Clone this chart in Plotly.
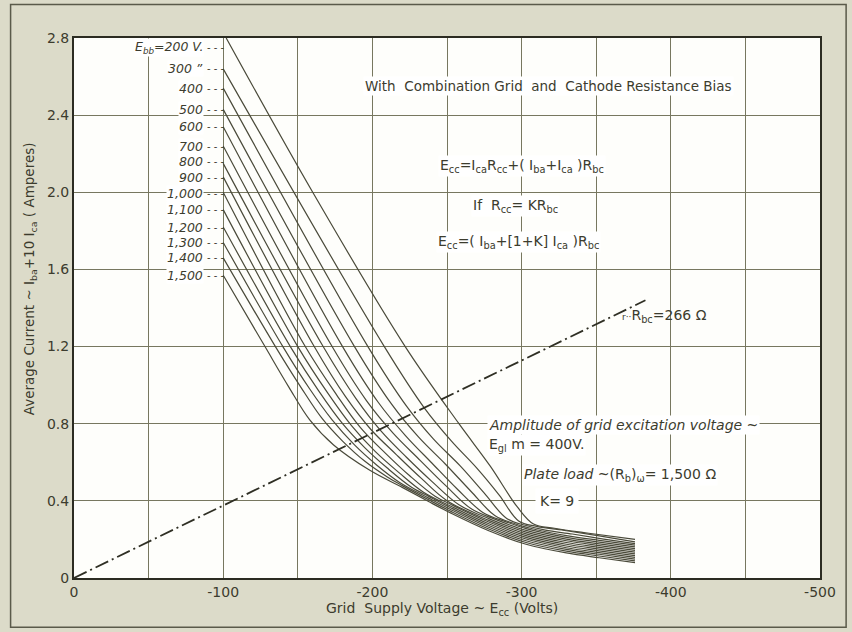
import plotly.graph_objects as go

# ---------------- data ----------------
ebb_labels = ["E<sub>bb</sub>=200 V.", "300 \u201d", "400", "500", "600", "700", "800",
              "900", "1,000", "1,100", "1,200", "1,300", "1,400", "1,500"]
ebb_label_y = [2.75, 2.64, 2.54, 2.43, 2.34, 2.24, 2.16, 2.075, 1.995, 1.91, 1.82, 1.74, 1.66, 1.57]

x_200 = [-102, -160, -222, -258, -279, -297, -308, -322, -345, -376]
y_200 = [2.80, 2.00, 1.20, 0.80, 0.58, 0.37, 0.28, 0.258, 0.232, 0.200]
x_300 = [-100, -208, -235, -253, -270, -285, -298, -310, -330, -352, -376]
y_300 = [2.64, 1.20, 0.88, 0.71, 0.57, 0.43, 0.296, 0.268, 0.245, 0.218, 0.187]
x_400 = [-100, -197, -223, -241, -259, -275, -290, -303, -316, -334, -355, -376]
y_400 = [2.54, 1.20, 0.89, 0.72, 0.58, 0.44, 0.309, 0.272, 0.248, 0.228, 0.202, 0.178]
x_500 = [-100, -188, -213, -231, -249, -266, -282, -296, -310, -330, -352, -376]
y_500 = [2.43, 1.20, 0.90, 0.73, 0.59, 0.45, 0.324, 0.28, 0.25, 0.22, 0.195, 0.17]
x_600 = [-100, -180, -204, -222, -240, -257, -274, -290, -303, -330, -352, -376]
y_600 = [2.34, 1.20, 0.91, 0.74, 0.595, 0.46, 0.34, 0.29, 0.256, 0.211, 0.186, 0.161]
x_700 = [-100, -173, -196, -214, -232, -249, -266, -282, -303, -330, -352, -376]
y_700 = [2.24, 1.20, 0.92, 0.75, 0.61, 0.48, 0.36, 0.305, 0.247, 0.202, 0.177, 0.152]
x_800 = [-100, -167, -189, -206, -223, -240, -258, -278, -303, -330, -352, -376]
y_800 = [2.15, 1.20, 0.93, 0.76, 0.625, 0.50, 0.38, 0.308, 0.238, 0.193, 0.168, 0.143]
x_900 = [-100, -161, -182, -199, -216, -233, -250, -278, -303, -330, -352, -376]
y_900 = [2.08, 1.20, 0.94, 0.77, 0.64, 0.515, 0.401, 0.299, 0.229, 0.184, 0.159, 0.134]
x_1000 = [-100, -155, -176, -192, -209, -225, -242, -253, -278, -303, -330, -352, -376]
y_1000 = [2.00, 1.20, 0.95, 0.78, 0.645, 0.53, 0.424, 0.38, 0.29, 0.22, 0.175, 0.15, 0.125]
x_1100 = [-100, -150, -170, -186, -202, -218, -234, -253, -278, -303, -330, -352, -376]
y_1100 = [1.91, 1.20, 0.96, 0.79, 0.655, 0.545, 0.446, 0.371, 0.281, 0.211, 0.166, 0.141, 0.116]
x_1200 = [-100, -145, -164, -180, -195, -210, -226, -238, -253, -278, -303, -330, -352, -376]
y_1200 = [1.82, 1.20, 0.97, 0.80, 0.675, 0.57, 0.472, 0.422, 0.362, 0.272, 0.202, 0.157, 0.132, 0.107]
x_1300 = [-100, -140, -158, -173, -188, -203, -218, -238, -253, -278, -303, -330, -352, -376]
y_1300 = [1.74, 1.20, 0.98, 0.82, 0.69, 0.585, 0.497, 0.413, 0.353, 0.263, 0.193, 0.148, 0.123, 0.098]
x_1400 = [-100, -135, -152, -166, -180, -195, -210, -220, -238, -253, -278, -303, -330, -352, -376]
y_1400 = [1.66, 1.20, 0.99, 0.83, 0.71, 0.605, 0.524, 0.479, 0.404, 0.344, 0.254, 0.184, 0.139, 0.114, 0.089]
x_1500 = [-100, -128, -144, -158, -174, -198, -220, -238, -253, -278, -303, -330, -352, -376]
y_1500 = [1.57, 1.20, 0.99, 0.82, 0.69, 0.56, 0.47, 0.395, 0.335, 0.245, 0.175, 0.13, 0.105, 0.08]

rbc_x = [0, -383]
rbc_y = [0, 1.44]

x_tick_vals = [0, -50, -100, -150, -200, -250, -300, -350, -400, -450, -500]
x_tick_text = ["0", "", "-100", "", "-200", "", "-300", "", "-400", "", "-500"]
y_tick_vals = [0, 0.4, 0.8, 1.2, 1.6, 2.0, 2.4, 2.8]
y_tick_text = ["0", "0.4", "0.8", "1.2", "1.6", "2.0", "2.4", "2.8"]

curves = [(x_200, y_200), (x_300, y_300), (x_400, y_400), (x_500, y_500),
          (x_600, y_600), (x_700, y_700), (x_800, y_800), (x_900, y_900),
          (x_1000, y_1000), (x_1100, y_1100), (x_1200, y_1200), (x_1300, y_1300),
          (x_1400, y_1400), (x_1500, y_1500)]

# ---------------- styling ----------------
INK = "#3c3c2e"
CURVE = "#4a4a3a"
GRID = "#77775f"
PAPER = "#dcdbc9"
FONT = "DejaVu Sans"

fig = go.Figure()

for cx, cy in curves:
    fig.add_trace(go.Scatter(x=cx, y=cy, mode="lines",
                             line=dict(color=CURVE, width=1.2, shape="spline", smoothing=1.0),
                             hoverinfo="skip", showlegend=False))

fig.add_trace(go.Scatter(x=rbc_x, y=rbc_y, mode="lines",
                         line=dict(color="#2f2f24", width=1.8, dash="14px,4px,2px,4px"),
                         hoverinfo="skip", showlegend=False))

ann = []
# Ebb labels with dashed leaders
for lab, ly in zip(ebb_labels, ebb_label_y):
    ann.append(dict(x=-87, y=ly, xref="x", yref="y", text="<i>" + lab + "</i>",
                    showarrow=False, xanchor="right", yanchor="middle",
                    font=dict(family=FONT, size=12.5, color=INK),
                    bgcolor="white", borderpad=0))
    ann.append(dict(x=-87.5, y=ly, xref="x", yref="y", text="- - -",
                    showarrow=False, xanchor="left", yanchor="middle",
                    font=dict(family=FONT, size=10, color=INK)))

txt_font = dict(family=FONT, size=14, color=INK)
ann += [
    dict(x=-318, y=2.55, text="With  Combination Grid  and  Cathode Resistance Bias",
         showarrow=False, font=dict(family=FONT, size=13.5, color=INK), bgcolor="white"),
    dict(x=-300, y=2.135,
         text="E<sub>cc</sub>=I<sub>ca</sub>R<sub>cc</sub>+( I<sub>ba</sub>+I<sub>ca</sub> )R<sub>bc</sub>",
         showarrow=False, font=txt_font, bgcolor="white"),
    dict(x=-296, y=1.93, text="If  R<sub>cc</sub>= KR<sub>bc</sub>",
         showarrow=False, font=txt_font, bgcolor="white"),
    dict(x=-298, y=1.74,
         text="E<sub>cc</sub>=( I<sub>ba</sub>+[1+K] I<sub>ca</sub> )R<sub>bc</sub>",
         showarrow=False, font=txt_font, bgcolor="white"),
    dict(x=-366, y=1.36, text="<span style='font-size:9px'>r··</span>R<sub>bc</sub>=266 \u03a9",
         showarrow=False, xanchor="left", font=txt_font),
    dict(x=-277, y=0.795, text="<i>Amplitude of grid excitation voltage ~</i>",
         showarrow=False, xanchor="left", font=txt_font, bgcolor="white"),
    dict(x=-277, y=0.69, text="E<sub>gl</sub> m = 400V.",
         showarrow=False, xanchor="left", font=txt_font, bgcolor="white"),
    dict(x=-300, y=0.535, text="<i>Plate load</i> ~(R<sub>b</sub>)<sub>\u03c9</sub>= 1,500 \u03a9",
         showarrow=False, xanchor="left", font=txt_font, bgcolor="white"),
    dict(x=-324, y=0.40, text="K= 9", showarrow=False, font=txt_font,
         bgcolor="white", borderpad=4),
    # axis titles
    dict(x=0.493, y=-0.058, xref="paper", yref="paper",
         text="Grid  Supply Voltage ~ E<sub>cc</sub> (Volts)", showarrow=False,
         font=dict(family=FONT, size=14, color=INK), yanchor="middle"),
    dict(x=-0.059, y=0.555, xref="paper", yref="paper", textangle=-90,
         text="Average Current ~ I<sub>ba</sub>+10 I<sub>ca</sub> ( Amperes)", showarrow=False,
         font=dict(family=FONT, size=13.5, color=INK), xanchor="center", yanchor="middle"),
]
for a in ann:
    a.setdefault("xref", "x")
    a.setdefault("yref", "y")

fig.update_layout(
    width=852, height=632,
    margin=dict(l=74, r=32, t=38, b=54),
    paper_bgcolor=PAPER, plot_bgcolor="#fefefb",
    annotations=ann,
    shapes=[dict(type="rect", xref="paper", yref="paper",
                 x0=-0.085, x1=1.035, y0=-0.091, y1=1.062,
                 line=dict(color="#5a5a4a", width=1.5), layer="below")],
    font=dict(family=FONT, color=INK),
)
fig.update_xaxes(range=[0, -500], tickvals=x_tick_vals, ticktext=x_tick_text,
                 showgrid=True, gridcolor=GRID, gridwidth=1, zeroline=False,
                 showline=True, mirror=True, linecolor="#2c2c22", linewidth=2,
                 ticks="", tickfont=dict(family=FONT, size=14, color=INK))
fig.update_yaxes(range=[0, 2.8], tickvals=y_tick_vals, ticktext=y_tick_text,
                 showgrid=True, gridcolor=GRID, gridwidth=1, zeroline=False,
                 showline=True, mirror=True, linecolor="#2c2c22", linewidth=2,
                 ticks="", tickfont=dict(family=FONT, size=14, color=INK))

fig.write_html("out.html", config={"displayModeBar": False},
               post_script="document.body.style.margin='0px';document.body.style.background='#dcdbc9';")
